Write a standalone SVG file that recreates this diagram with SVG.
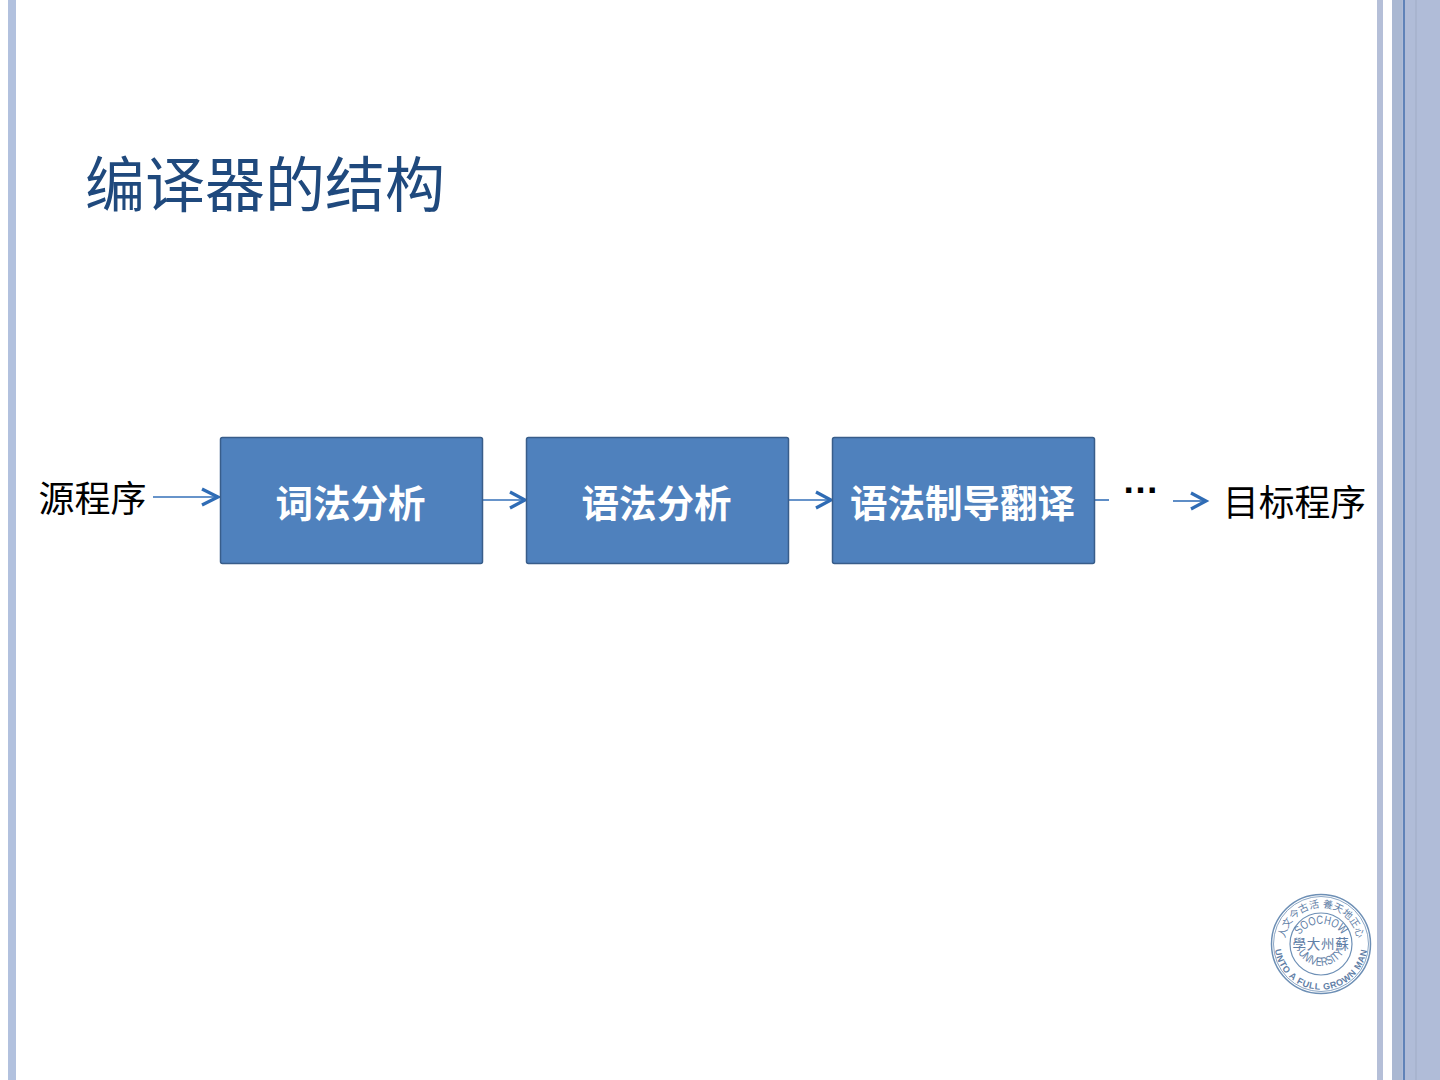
<svg xmlns="http://www.w3.org/2000/svg" width="1440" height="1080" viewBox="0 0 1440 1080">
<style>
.cjk{font-family:"Liberation Sans","Noto Sans CJK SC",sans-serif}
.box{fill:#4f81bd;stroke:#385d8a;stroke-width:1.5}
.lbl{fill:#fff;font-size:37.500px;font-weight:700;text-anchor:middle}
.side{fill:#000;font-size:36px}
.edge{fill:none;stroke:#3570b8;stroke-width:1.600}
.head{fill:none;stroke:#2f6cb5;stroke-width:3.200}
.seal{fill:none;stroke:#6d8fb5}
.sealt{fill:#5f7ea6;font-family:"Liberation Sans","Noto Sans CJK SC",sans-serif}
</style>
<defs>
<path id="topArc" d="M1286 954A36.400 36.400 0 1 1 1356 954"/>
<path id="botArc" d="M1275 950A46.500 46.500 0 0 0 1367 950"/>
<path id="socArc" d="M1299 936A26 26 0 0 1 1343 936"/>
<path id="uniArc" d="M1298 952A26 26 0 0 0 1344 952"/>
</defs>
<rect width="1440" height="1080" fill="#fff"/>
<g id="frame">
<rect x="8" y="0" width="8" height="1080" fill="#b2c1de"/>
<rect x="1377" y="0" width="6" height="1080" fill="#b5bfd8"/>
<rect x="1392" y="0" width="48" height="1080" fill="#b0bcd8"/>
<rect x="1392" y="0" width="10" height="1080" fill="#aab8d2"/>
<rect x="1403" y="0" width="2" height="1080" fill="#5f82b8"/>
<rect x="1415" y="0" width="2" height="1080" fill="#a8b4cf"/>
</g>
<text id="title" class="cjk" x="85" y="207" font-size="60" fill="#1f497d">编译器的结构</text>
<g id="connectors">
<path class="edge" d="M153 497H218"/><path class="head" d="M202 489L218 497L202 505"/>
<path class="edge" d="M483 500H525"/><path class="head" d="M510 492L525 500L510 508"/>
<path class="edge" d="M789 500H831"/><path class="head" d="M816 492L831 500L816 508"/>
<path class="edge" d="M1095 500H1109"/>
<path class="edge" d="M1173 501H1205"/><path class="head" d="M1191 493L1206 501L1191 509"/>
</g>
<g id="source"><text class="cjk side" x="38.500" y="512">源程序</text></g>
<g id="lexer"><rect class="box" x="220.500" y="437.500" width="262" height="126" rx="2"/><text class="cjk lbl" x="350.500" y="517">词法分析</text></g>
<g id="parser"><rect class="box" x="526.500" y="437.500" width="262" height="126" rx="2"/><text class="cjk lbl" x="656.500" y="517">语法分析</text></g>
<g id="sdt"><rect class="box" x="832.500" y="437.500" width="262" height="126" rx="2"/><text class="cjk lbl" x="962.500" y="517">语法制导翻译</text></g>
<g id="ellipsis"><text class="cjk" x="1122" y="493" font-size="37" font-weight="700" fill="#000">…</text></g>
<g id="target"><text class="cjk side" x="1223" y="516" textLength="143" lengthAdjust="spacingAndGlyphs">目标程序</text></g>
<g id="seal">
<circle class="seal" cx="1321" cy="944" r="49.500" stroke-width="1.500"/>
<circle class="seal" cx="1321" cy="944" r="47.500" stroke-width="0.800"/>
<circle class="seal" cx="1321" cy="944" r="31" stroke-width="1.200"/>
<text class="sealt" font-size="10"><textPath href="#topArc" startOffset="50%" text-anchor="middle">人文今古活 養天地正心</textPath></text>
<text class="sealt" font-size="9" font-weight="700" letter-spacing=".6"><textPath href="#botArc" startOffset="50%" text-anchor="middle">UNTO A FULL GROWN MAN</textPath></text>
<text class="sealt" font-size="12"><textPath href="#socArc" startOffset="50%" text-anchor="middle" textLength="50" lengthAdjust="spacingAndGlyphs">SOOCHOW</textPath></text>
<text class="sealt" x="1321" y="949" font-size="13.500" letter-spacing=".8" text-anchor="middle">學大州蘇</text>
<text class="sealt" font-size="12"><textPath href="#uniArc" startOffset="50%" text-anchor="middle" textLength="55" lengthAdjust="spacingAndGlyphs">UNIVERSITY</textPath></text>
</g>
</svg>
